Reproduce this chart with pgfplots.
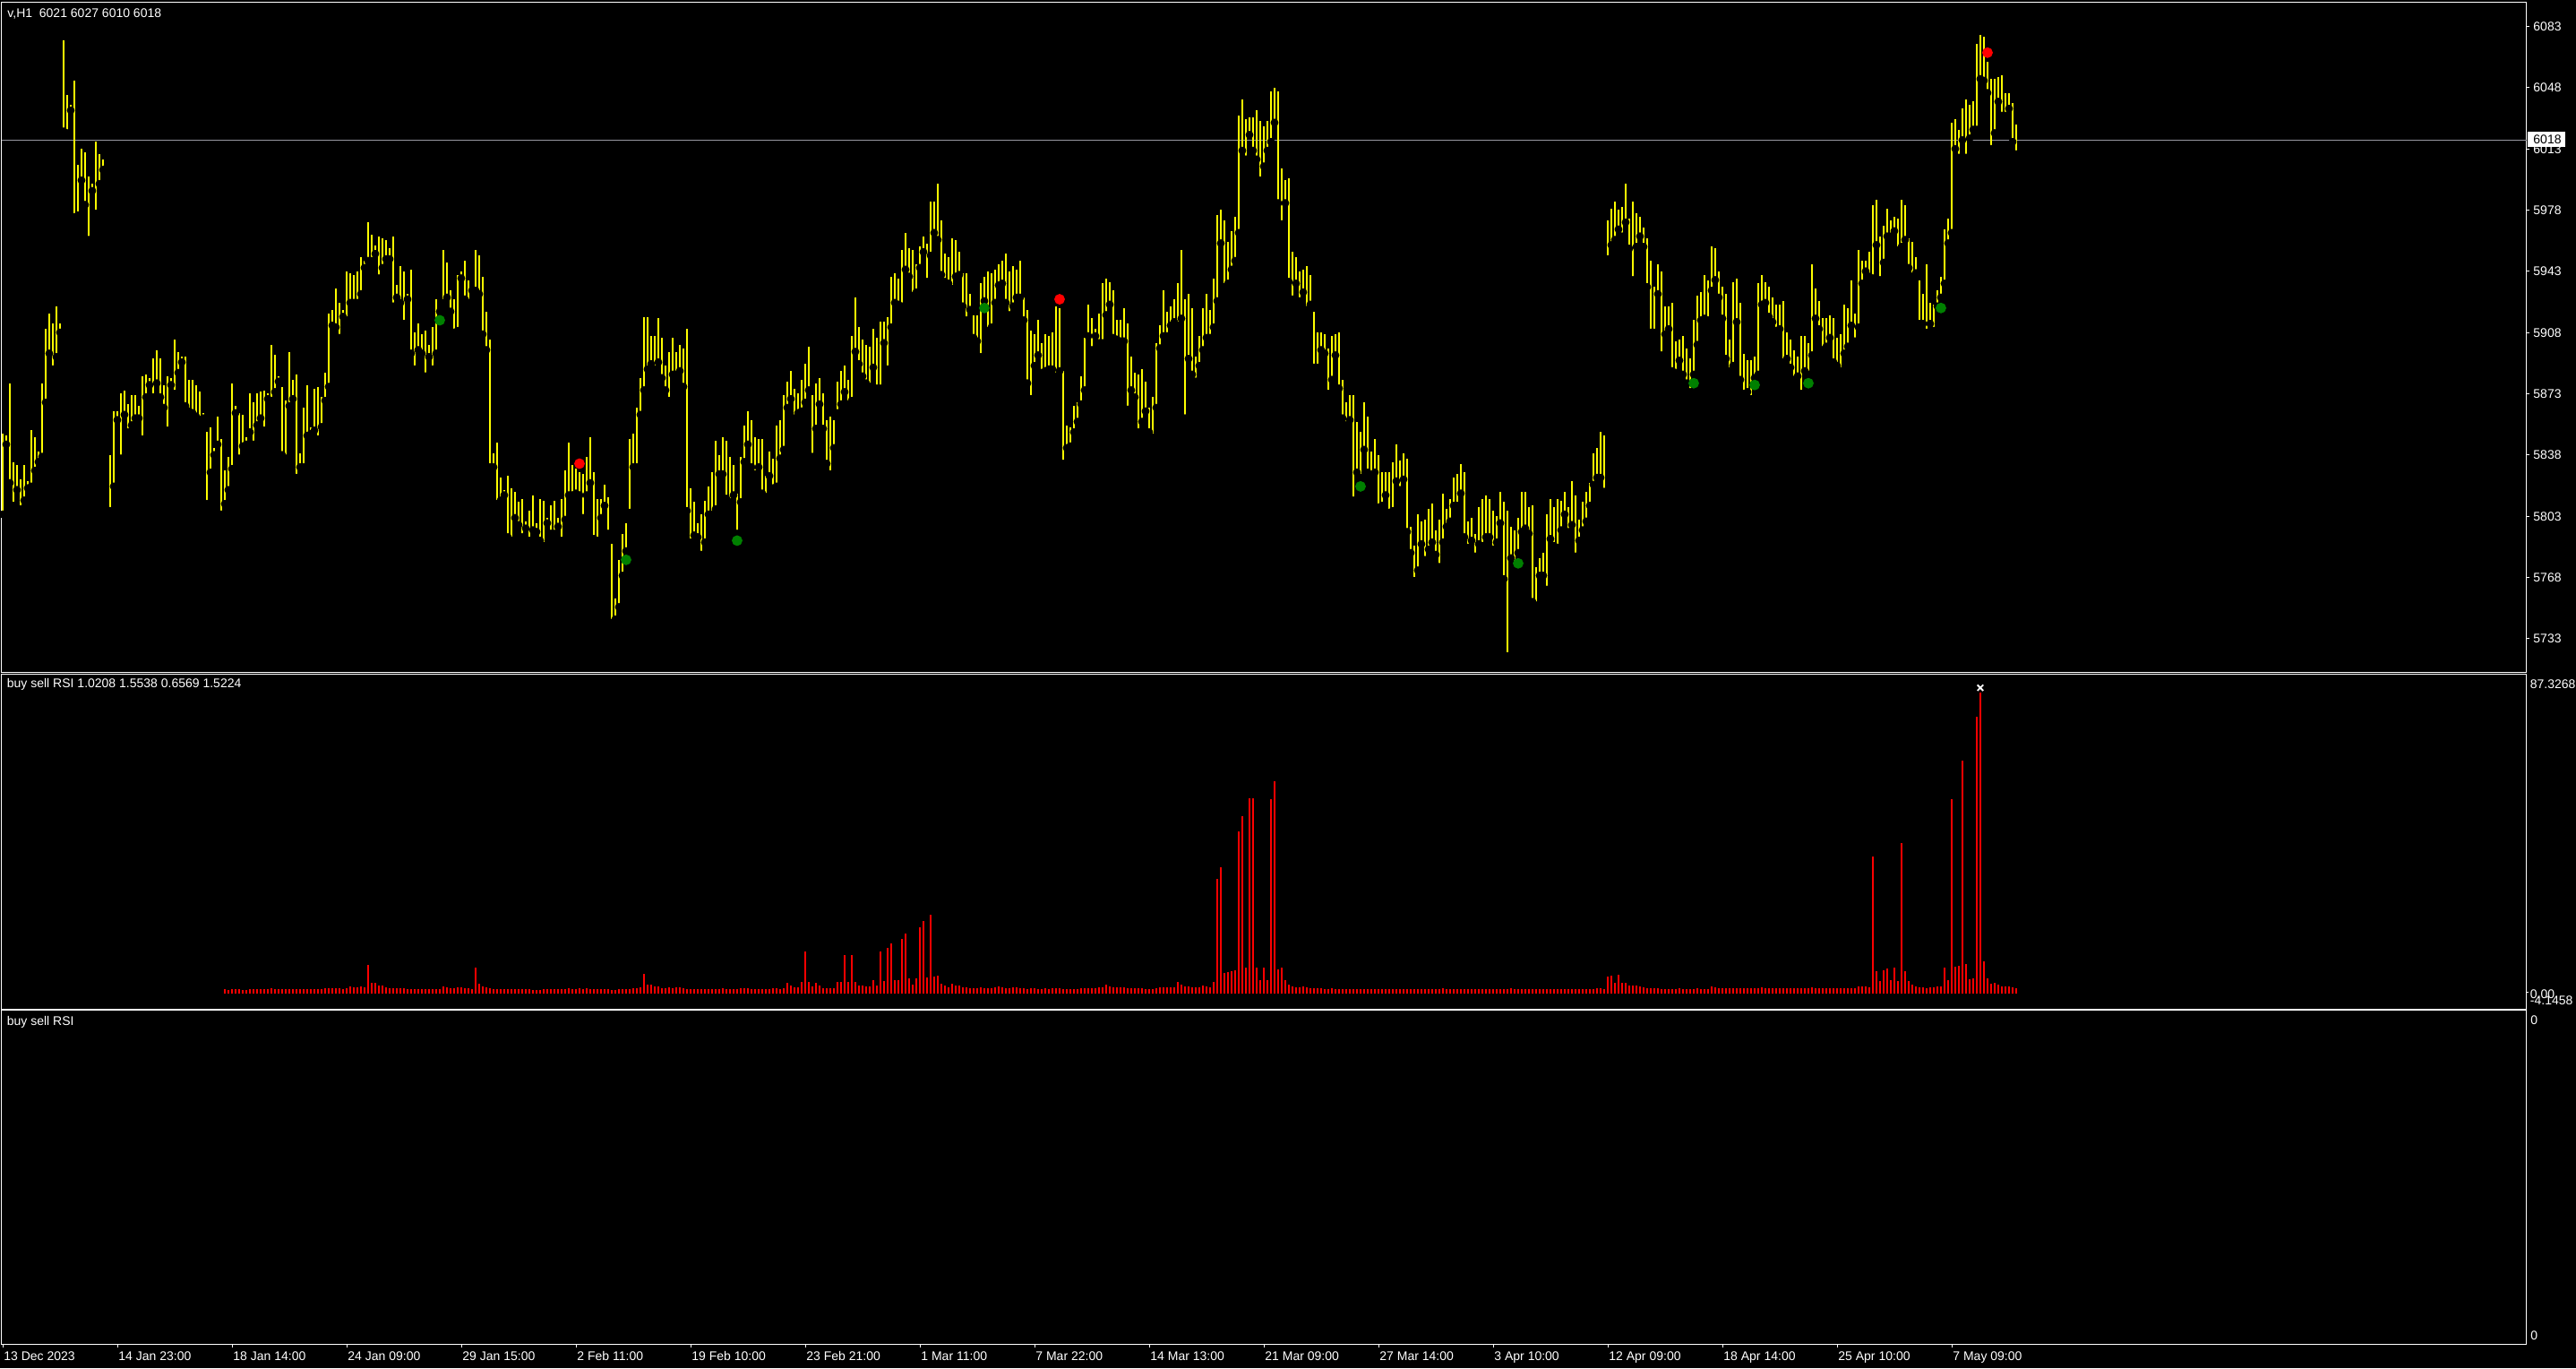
\documentclass[border=0pt]{standalone}
\usepackage{fontspec}
\setmainfont{Liberation Sans}
\usepackage{pgfplots}
\pgfplotsset{compat=1.18}
\usepackage{pgfplotstable}

\definecolor{mtyellow}{RGB}{255,255,0}
\definecolor{mtgreen}{RGB}{0,128,0}
\definecolor{mtred}{RGB}{255,0,0}
\definecolor{mtline}{RGB}{150,150,160}

% H1 bars: index, low, high
\pgfplotstableread[row sep=\\]{
i lo hi\\
0 5804 5850\\ 1 5844 5849\\ 2 5822 5879\\ 3 5809 5834\\ 4 5818 5832\\ 5 5807 5824\\ 6 5812 5832\\ 7 5819 5823\\
8 5820 5852\\ 9 5829 5848\\ 10 5834 5840\\ 11 5837 5879\\ 12 5868 5910\\ 13 5896 5919\\ 14 5887 5913\\ 15 5894 5923\\
16 5908 5913\\ 17 6023 6075\\ 18 6022 6044\\ 19 6035 6038\\ 20 5974 6052\\ 21 5975 6004\\ 22 5995 6013\\ 23 5981 6011\\
24 5961 5997\\ 25 5989 5993\\ 26 5976 6017\\ 27 5993 6010\\ 28 6001 6007\\ 29 6002 6004\\ 30 5806 5838\\ 31 5820 5863\\
32 5858 5863\\ 33 5836 5873\\ 34 5861 5875\\ 35 5851 5867\\ 36 5855 5872\\ 37 5859 5872\\ 38 5859 5866\\ 39 5847 5883\\
40 5871 5884\\ 41 5878 5882\\ 42 5871 5893\\ 43 5879 5898\\ 44 5871 5893\\ 45 5865 5878\\ 46 5852 5883\\ 47 5878 5882\\
48 5873 5904\\ 49 5885 5897\\ 50 5891 5894\\ 51 5866 5894\\ 52 5863 5881\\ 53 5862 5881\\ 54 5860 5878\\ 55 5858 5874\\
56 5859 5862\\ 57 5810 5851\\ 58 5828 5854\\ 59 5838 5842\\ 60 5844 5860\\ 61 5804 5847\\ 62 5810 5829\\ 63 5818 5837\\
64 5830 5879\\ 65 5862 5866\\ 66 5836 5862\\ 67 5843 5861\\ 68 5844 5848\\ 69 5851 5873\\ 70 5844 5868\\ 71 5855 5873\\
72 5859 5874\\ 73 5852 5875\\ 74 5870 5873\\ 75 5869 5901\\ 76 5874 5895\\ 77 5880 5883\\ 78 5838 5877\\ 79 5836 5869\\
80 5866 5897\\ 81 5870 5881\\ 82 5825 5884\\ 83 5831 5839\\ 84 5831 5865\\ 85 5849 5878\\ 86 5850 5854\\ 87 5852 5876\\
88 5847 5877\\ 89 5854 5871\\ 90 5869 5885\\ 91 5877 5919\\ 92 5912 5921\\ 93 5911 5933\\ 94 5905 5925\\ 95 5917 5921\\
96 5915 5943\\ 97 5925 5942\\ 98 5925 5941\\ 99 5925 5943\\ 100 5930 5951\\ 101 5945 5949\\ 102 5949 5971\\ 103 5949 5964\\
104 5953 5958\\ 105 5939 5963\\ 106 5945 5962\\ 107 5950 5961\\ 108 5950 5956\\ 109 5923 5963\\ 110 5928 5935\\ 111 5925 5946\\
112 5913 5943\\ 113 5927 5930\\ 114 5896 5944\\ 115 5887 5908\\ 116 5898 5913\\ 117 5896 5907\\ 118 5883 5909\\ 119 5894 5901\\
120 5887 5911\\ 121 5896 5927\\ 122 5920 5922\\ 123 5925 5955\\ 124 5928 5948\\ 125 5920 5932\\ 126 5908 5927\\ 127 5909 5941\\
128 5939 5943\\ 129 5927 5949\\ 130 5925 5938\\ 131 5932 5934\\ 132 5932 5955\\ 133 5930 5952\\ 134 5907 5940\\ 135 5898 5920\\
136 5831 5904\\ 137 5831 5839\\ 138 5810 5845\\ 139 5812 5825\\ 140 5815 5818\\ 141 5791 5826\\ 142 5789 5819\\ 143 5802 5817\\
144 5798 5811\\ 145 5791 5813\\ 146 5796 5800\\ 147 5789 5806\\ 148 5795 5815\\ 149 5794 5799\\ 150 5789 5813\\ 151 5786 5812\\
152 5799 5802\\ 153 5793 5809\\ 154 5793 5812\\ 155 5797 5802\\ 156 5789 5813\\ 157 5801 5829\\ 158 5815 5845\\ 159 5815 5832\\
160 5816 5830\\ 161 5815 5828\\ 162 5802 5827\\ 163 5815 5837\\ 164 5822 5848\\ 165 5790 5828\\ 166 5789 5813\\ 167 5802 5813\\
168 5809 5821\\ 169 5793 5814\\ 170 5742 5787\\ 171 5744 5756\\ 172 5751 5778\\ 173 5769 5793\\ 174 5783 5799\\ 175 5805 5847\\
176 5831 5850\\ 177 5831 5865\\ 178 5861 5882\\ 179 5875 5917\\ 180 5887 5917\\ 181 5890 5906\\ 182 5887 5906\\ 183 5891 5916\\
184 5882 5905\\ 185 5875 5889\\ 186 5869 5897\\ 187 5884 5905\\ 188 5884 5897\\ 189 5886 5901\\ 190 5877 5899\\ 191 5806 5910\\
192 5788 5819\\ 193 5792 5811\\ 194 5791 5799\\ 195 5781 5804\\ 196 5788 5812\\ 197 5804 5820\\ 198 5804 5828\\ 199 5807 5846\\
200 5827 5838\\ 201 5827 5848\\ 202 5813 5846\\ 203 5811 5837\\ 204 5815 5832\\ 205 5793 5816\\ 206 5811 5837\\ 207 5834 5855\\
208 5844 5863\\ 209 5831 5858\\ 210 5827 5848\\ 211 5831 5847\\ 212 5816 5847\\ 213 5814 5826\\ 214 5826 5840\\ 215 5819 5836\\
216 5820 5855\\ 217 5836 5858\\ 218 5841 5872\\ 219 5865 5880\\ 220 5870 5886\\ 221 5859 5876\\ 222 5862 5873\\ 223 5863 5881\\
224 5868 5890\\ 225 5875 5900\\ 226 5837 5872\\ 227 5853 5879\\ 228 5867 5882\\ 229 5853 5873\\ 230 5833 5858\\ 231 5827 5860\\
232 5842 5858\\ 233 5862 5880\\ 234 5867 5886\\ 235 5874 5889\\ 236 5867 5881\\ 237 5869 5906\\ 238 5897 5928\\ 239 5890 5911\\
240 5883 5904\\ 241 5879 5901\\ 242 5877 5900\\ 243 5888 5910\\ 244 5876 5905\\ 245 5876 5914\\ 246 5902 5914\\ 247 5887 5917\\
248 5911 5940\\ 249 5925 5942\\ 250 5924 5939\\ 251 5923 5955\\ 252 5944 5965\\ 253 5940 5956\\ 254 5929 5955\\ 255 5931 5947\\
256 5945 5957\\ 257 5954 5963\\ 258 5937 5959\\ 259 5952 5983\\ 260 5965 5983\\ 261 5961 5993\\ 262 5941 5972\\ 263 5937 5953\\
264 5936 5951\\ 265 5933 5962\\ 266 5940 5961\\ 267 5941 5954\\ 268 5923 5942\\ 269 5915 5942\\ 270 5921 5930\\ 271 5905 5918\\
272 5903 5918\\ 273 5894 5936\\ 274 5926 5940\\ 275 5909 5943\\ 276 5911 5942\\ 277 5925 5944\\ 278 5935 5947\\ 279 5936 5949\\
280 5925 5953\\ 281 5918 5943\\ 282 5923 5946\\ 283 5928 5944\\ 284 5928 5949\\ 285 5915 5928\\ 286 5879 5921\\ 287 5870 5909\\
288 5889 5907\\ 289 5895 5915\\ 290 5885 5902\\ 291 5886 5907\\ 292 5887 5906\\ 293 5887 5908\\ 294 5883 5923\\ 295 5886 5922\\
296 5833 5886\\ 297 5842 5855\\ 298 5843 5854\\ 299 5851 5866\\ 300 5857 5868\\ 301 5867 5883\\ 302 5875 5905\\ 303 5906 5924\\
304 5898 5916\\ 305 5906 5910\\ 306 5902 5919\\ 307 5902 5936\\ 308 5918 5939\\ 309 5924 5937\\ 310 5905 5932\\ 311 5904 5915\\
312 5903 5915\\ 313 5903 5922\\ 314 5864 5913\\ 315 5875 5894\\ 316 5871 5885\\ 317 5851 5884\\ 318 5857 5887\\ 319 5863 5880\\
320 5851 5865\\ 321 5848 5871\\ 322 5865 5902\\ 323 5899 5912\\ 324 5906 5932\\ 325 5906 5920\\ 326 5912 5923\\ 327 5914 5927\\
328 5912 5936\\ 329 5916 5955\\ 330 5859 5927\\ 331 5893 5930\\ 332 5884 5922\\ 333 5880 5894\\ 334 5889 5906\\ 335 5898 5922\\
336 5905 5930\\ 337 5905 5921\\ 338 5911 5939\\ 339 5926 5975\\ 340 5959 5978\\ 341 5934 5972\\ 342 5936 5960\\ 343 5944 5966\\
344 5949 5974\\ 345 5965 6032\\ 346 6012 6041\\ 347 6007 6030\\ 348 6021 6031\\ 349 6012 6031\\ 350 6007 6035\\ 351 5995 6029\\
352 6003 6026\\ 353 6012 6029\\ 354 6017 6046\\ 355 6028 6048\\ 356 5982 6046\\ 357 5970 6002\\ 358 5982 5995\\ 359 5937 5996\\
360 5927 5954\\ 361 5936 5951\\ 362 5926 5943\\ 363 5931 5944\\ 364 5921 5946\\ 365 5924 5941\\ 366 5888 5920\\ 367 5888 5908\\
368 5898 5908\\ 369 5896 5907\\ 370 5873 5899\\ 371 5881 5906\\ 372 5895 5907\\ 373 5876 5908\\ 374 5859 5881\\ 375 5855 5868\\
376 5858 5872\\ 377 5812 5872\\ 378 5828 5857\\ 379 5825 5851\\ 380 5841 5868\\ 381 5828 5860\\ 382 5826 5840\\ 383 5828 5847\\
384 5808 5838\\ 385 5809 5828\\ 386 5815 5828\\ 387 5805 5828\\ 388 5806 5834\\ 389 5823 5844\\ 390 5818 5835\\ 391 5824 5839\\
392 5794 5836\\ 393 5782 5797\\ 394 5766 5786\\ 395 5772 5804\\ 396 5787 5800\\ 397 5778 5801\\ 398 5784 5807\\ 399 5788 5810\\
400 5781 5795\\ 401 5774 5801\\ 402 5788 5816\\ 403 5797 5807\\ 404 5800 5813\\ 405 5809 5825\\ 406 5809 5827\\ 407 5816 5833\\
408 5791 5828\\ 409 5785 5800\\ 410 5789 5802\\ 411 5780 5793\\ 412 5787 5808\\ 413 5786 5813\\ 414 5791 5815\\ 415 5791 5813\\
416 5784 5806\\ 417 5788 5803\\ 418 5799 5817\\ 419 5767 5811\\ 420 5723 5806\\ 421 5779 5797\\ 422 5774 5795\\ 423 5782 5802\\
424 5794 5817\\ 425 5796 5817\\ 426 5793 5808\\ 427 5754 5809\\ 428 5752 5774\\ 429 5769 5779\\ 430 5769 5782\\ 431 5761 5804\\
432 5790 5813\\ 433 5786 5808\\ 434 5785 5813\\ 435 5795 5812\\ 436 5804 5817\\ 437 5794 5808\\ 438 5798 5823\\ 439 5780 5815\\
440 5789 5801\\ 441 5795 5811\\ 442 5800 5817\\ 443 5809 5822\\ 444 5821 5839\\ 445 5825 5842\\ 446 5825 5851\\ 447 5817 5849\\
448 5950 5972\\ 449 5958 5979\\ 450 5961 5983\\ 451 5967 5978\\ 452 5963 5980\\ 453 5971 5993\\ 454 5956 5973\\ 455 5938 5983\\
456 5957 5976\\ 457 5963 5974\\ 458 5957 5968\\ 459 5934 5962\\ 460 5908 5949\\ 461 5908 5934\\ 462 5930 5947\\ 463 5895 5943\\
464 5907 5923\\ 465 5910 5923\\ 466 5886 5925\\ 467 5885 5903\\ 468 5892 5904\\ 469 5884 5906\\ 470 5879 5899\\ 471 5874 5893\\
472 5884 5915\\ 473 5901 5929\\ 474 5915 5931\\ 475 5916 5941\\ 476 5915 5938\\ 477 5932 5957\\ 478 5938 5956\\ 479 5928 5943\\
480 5916 5934\\ 481 5893 5930\\ 482 5886 5904\\ 483 5889 5937\\ 484 5914 5939\\ 485 5881 5925\\ 486 5873 5896\\ 487 5874 5892\\
488 5870 5892\\ 489 5882 5894\\ 490 5884 5936\\ 491 5924 5941\\ 492 5925 5937\\ 493 5917 5934\\ 494 5914 5928\\ 495 5909 5924\\
496 5910 5924\\ 497 5891 5926\\ 498 5893 5908\\ 499 5888 5904\\ 500 5881 5898\\ 501 5883 5894\\ 502 5873 5906\\ 503 5886 5906\\
504 5884 5902\\ 505 5895 5947\\ 506 5916 5933\\ 507 5910 5926\\ 508 5898 5916\\ 509 5900 5916\\ 510 5905 5918\\ 511 5891 5916\\
512 5889 5905\\ 513 5886 5907\\ 514 5896 5924\\ 515 5900 5922\\ 516 5912 5938\\ 517 5903 5919\\ 518 5911 5955\\ 519 5936 5949\\
520 5943 5949\\ 521 5940 5954\\ 522 5939 5981\\ 523 5958 5984\\ 524 5938 5963\\ 525 5948 5969\\ 526 5963 5979\\ 527 5963 5972\\
528 5966 5974\\ 529 5955 5973\\ 530 5957 5984\\ 531 5961 5981\\ 532 5945 5962\\ 533 5940 5960\\ 534 5942 5951\\ 535 5913 5938\\
536 5913 5930\\ 537 5908 5947\\ 538 5913 5925\\ 539 5909 5924\\ 540 5923 5932\\ 541 5928 5940\\ 542 5936 5967\\ 543 5959 5973\\
544 5965 6028\\ 545 6013 6030\\ 546 6008 6024\\ 547 6018 6036\\ 548 6008 6041\\ 549 6019 6038\\ 550 6024 6040\\ 551 6024 6073\\
552 6053 6078\\ 553 6052 6077\\ 554 6045 6063\\ 555 6013 6053\\ 556 6022 6053\\ 557 6040 6054\\ 558 6032 6055\\ 559 6032 6045\\
560 6036 6045\\ 561 6017 6039\\ 562 6010 6027\\
}\pricebars

\pgfplotsset{
  mtpane/.style={
    scale only axis, width=1409.5pt, anchor=north west,
    xmin=-0.25, xmax=704.5,
    xtick=\empty, ytick=\empty,
    axis line style={white, line width=0.5pt},
  },
}

\begin{document}
\begin{tikzpicture}
\fill[black] (0,0) rectangle (1438pt,-763.5pt);
\useasboundingbox (0,0) rectangle (1438pt,-763.5pt);

% price pane
\begin{axis}[mtpane, at={(1pt,-1pt)}, height=374pt, ymin=5713.89, ymax=6097.09]
  \addplot[mtline, line width=0.5pt] coordinates {(-0.25,6018) (704.5,6018)};
  \addplot[only marks, mark=none, error bars/.cd, y dir=plus, y explicit, error mark=none,
    error bar style={draw=mtyellow, solid, line width=0.55pt}]
    table[x=i, y=lo, y error plus expr=\thisrow{hi}-\thisrow{lo}] {\pricebars};
  \addplot[only marks, mark=*, mark size=2.75pt, color=mtgreen] coordinates {
    (122,5915) (174,5778) (205,5789) (274,5922) (379,5820) (423,5776)
    (472,5879) (489,5878) (504,5879) (541,5922)};
  \addplot[only marks, mark=*, mark size=2.75pt, color=mtred] coordinates {
    (161,5833) (295,5927) (554,6068)};
\end{axis}

% buy sell RSI histogram
\begin{axis}[mtpane, at={(1pt,-376.25pt)}, height=186.75pt, ymin=-4.1458, ymax=87.3268]
  \addplot[ycomb, mtred, line width=0.55pt, mark=none] coordinates {
(62,1.15)(63,0.9)(64,1.2)(65,1.2)(66,1.2)(67,0.9)(68,0.9)(69,1.2)(70,1.2)(71,1.2)
(72,1.2)(73,1.2)(74,1.2)(75,1.5)(76,1.2)(77,1.2)(78,1.2)(79,1.2)(80,1.2)(81,1.2)
(82,1.2)(83,1.2)(84,1.2)(85,1.2)(86,1.2)(87,1.2)(88,1.2)(89,1.2)(90,1.5)(91,1.5)
(92,1.5)(93,1.5)(94,1.5)(95,1.2)(96,1.5)(97,2.0)(98,1.7)(99,1.7)(100,2.0)(101,1.7)
(102,7.85)(103,2.9)(104,2.9)(105,2.2)(106,2.2)(107,1.7)(108,1.5)(109,1.5)(110,1.5)(111,1.5)
(112,1.5)(113,1.2)(114,1.2)(115,1.2)(116,1.2)(117,1.2)(118,1.2)(119,1.2)(120,1.2)(121,1.2)
(122,1.2)(123,2.0)(124,1.7)(125,1.5)(126,1.5)(127,1.7)(128,1.7)(129,1.5)(130,1.5)(131,1.2)
(132,7.1)(133,2.7)(134,2.0)(135,1.7)(136,1.5)(137,1.2)(138,1.2)(139,1.2)(140,1.2)(141,1.2)
(142,1.2)(143,1.2)(144,1.2)(145,1.2)(146,1.2)(147,1.2)(148,0.9)(149,0.9)(150,0.9)(151,1.2)
(152,1.2)(153,1.2)(154,1.2)(155,1.2)(156,1.2)(157,1.2)(158,1.5)(159,1.2)(160,1.2)(161,1.5)
(162,1.2)(163,1.5)(164,1.2)(165,1.2)(166,1.2)(167,1.2)(168,1.2)(169,1.2)(170,0.9)(171,0.9)
(172,1.2)(173,1.2)(174,1.2)(175,1.2)(176,1.5)(177,1.5)(178,1.7)(179,5.4)(180,2.45)(181,2.45)
(182,2.0)(183,2.0)(184,1.5)(185,1.5)(186,1.7)(187,1.5)(188,1.7)(189,1.7)(190,1.5)(191,1.2)
(192,1.2)(193,1.2)(194,1.2)(195,1.2)(196,1.2)(197,1.2)(198,1.2)(199,1.2)(200,1.2)(201,1.5)
(202,1.2)(203,1.2)(204,1.2)(205,1.2)(206,1.5)(207,1.5)(208,1.5)(209,1.2)(210,1.2)(211,1.2)
(212,1.2)(213,1.2)(214,1.2)(215,1.5)(216,1.5)(217,1.2)(218,1.5)(219,2.9)(220,2.2)(221,1.7)
(222,1.7)(223,3.2)(224,11.6)(225,3.2)(226,2.0)(227,2.9)(228,2.2)(229,1.6)(230,1.4)(231,1.6)
(232,1.4)(233,3.2)(234,3.2)(235,10.5)(236,3.2)(237,10.5)(238,3.2)(239,2.2)(240,2.2)(241,2.0)
(242,2.0)(243,3.7)(244,2.2)(245,11.5)(246,3.4)(247,12.5)(248,13.7)(249,3.7)(250,3.7)(251,15.0)
(252,16.4)(253,4.2)(254,2.5)(255,4.2)(256,18.2)(257,19.9)(258,4.4)(259,21.6)(260,4.7)(261,4.9)
(262,2.7)(263,2.2)(264,1.7)(265,2.7)(266,2.2)(267,2.2)(268,1.7)(269,1.7)(270,1.5)(271,1.5)
(272,1.5)(273,1.7)(274,1.5)(275,1.5)(276,1.5)(277,1.7)(278,2.0)(279,1.7)(280,1.5)(281,1.5)
(282,1.7)(283,1.7)(284,1.5)(285,1.5)(286,1.2)(287,1.5)(288,1.5)(289,1.2)(290,1.2)(291,1.5)
(292,1.2)(293,1.5)(294,1.5)(295,1.5)(296,1.2)(297,1.2)(298,1.2)(299,1.2)(300,1.2)(301,1.5)
(302,1.5)(303,1.5)(304,1.5)(305,1.5)(306,1.7)(307,1.7)(308,2.5)(309,2.0)(310,1.7)(311,1.7)
(312,1.7)(313,1.7)(314,1.5)(315,1.5)(316,1.5)(317,1.5)(318,1.5)(319,1.2)(320,1.2)(321,1.2)
(322,1.5)(323,1.7)(324,1.7)(325,1.7)(326,1.7)(327,1.7)(328,3.2)(329,2.5)(330,2.0)(331,2.0)
(332,1.7)(333,1.7)(334,1.7)(335,2.2)(336,2.0)(337,1.7)(338,3.2)(339,31.4)(340,34.6)(341,5.6)
(342,5.9)(343,6.1)(344,6.4)(345,44.4)(346,48.6)(347,7.1)(348,53.5)(349,53.5)(350,7.1)(351,3.7)
(352,7.1)(353,3.7)(354,53.2)(355,58.1)(356,6.6)(357,7.1)(358,3.7)(359,2.5)(360,2.0)(361,1.7)
(362,1.7)(363,2.0)(364,1.7)(365,1.5)(366,1.5)(367,1.5)(368,1.5)(369,1.2)(370,1.2)(371,1.5)
(372,1.2)(373,1.2)(374,1.2)(375,1.2)(376,1.2)(377,1.2)(378,1.2)(379,1.2)(380,1.2)(381,1.2)
(382,1.2)(383,1.2)(384,1.2)(385,1.2)(386,1.2)(387,1.2)(388,1.2)(389,1.2)(390,1.2)(391,1.2)
(392,1.2)(393,1.2)(394,1.2)(395,1.2)(396,1.2)(397,1.2)(398,1.2)(399,1.2)(400,1.2)(401,1.2)
(402,1.5)(403,1.2)(404,1.2)(405,1.2)(406,1.2)(407,1.2)(408,1.2)(409,1.2)(410,1.2)(411,1.2)
(412,1.2)(413,1.2)(414,1.2)(415,1.2)(416,1.2)(417,1.2)(418,1.2)(419,1.2)(420,1.2)(421,1.5)
(422,1.2)(423,1.2)(424,1.2)(425,1.2)(426,1.2)(427,1.2)(428,1.2)(429,1.2)(430,1.2)(431,1.2)
(432,1.2)(433,1.2)(434,1.2)(435,1.2)(436,1.2)(437,1.2)(438,1.2)(439,1.2)(440,1.2)(441,1.2)
(442,1.2)(443,1.2)(444,1.2)(445,1.5)(446,1.5)(447,1.2)(448,4.7)(449,4.9)(450,2.9)(451,5.2)
(452,2.9)(453,2.9)(454,2.2)(455,2.2)(456,2.2)(457,2.0)(458,1.7)(459,1.5)(460,1.5)(461,1.5)
(462,1.5)(463,1.2)(464,1.2)(465,1.2)(466,1.2)(467,1.2)(468,1.5)(469,1.2)(470,1.2)(471,1.2)
(472,1.2)(473,1.5)(474,1.2)(475,1.2)(476,1.2)(477,2.0)(478,1.7)(479,1.5)(480,1.5)(481,1.5)
(482,1.5)(483,1.5)(484,1.5)(485,1.5)(486,1.5)(487,1.5)(488,1.5)(489,1.5)(490,1.5)(491,1.7)
(492,1.5)(493,1.5)(494,1.5)(495,1.5)(496,1.5)(497,1.5)(498,1.5)(499,1.5)(500,1.5)(501,1.5)
(502,1.5)(503,1.5)(504,1.5)(505,1.7)(506,1.5)(507,1.5)(508,1.5)(509,1.5)(510,1.5)(511,1.5)
(512,1.5)(513,1.5)(514,1.5)(515,1.5)(516,1.5)(517,1.5)(518,2.0)(519,2.0)(520,2.0)(521,1.7)
(522,37.5)(523,6.1)(524,3.4)(525,6.4)(526,6.9)(527,3.7)(528,7.1)(529,3.4)(530,41.2)(531,6.1)
(532,3.4)(533,2.5)(534,2.0)(535,1.7)(536,1.7)(537,1.5)(538,1.7)(539,1.7)(540,2.0)(541,2.0)
(542,7.1)(543,3.7)(544,53.2)(545,7.4)(546,7.6)(547,63.8)(548,8.1)(549,3.9)(550,4.2)(551,75.8)
(552,82.3)(553,8.8)(554,4.2)(555,2.7)(556,2.9)(557,2.5)(558,2.0)(559,2.0)(560,2.0)(561,1.7)
(562,1.5)};
  \addplot[only marks, mark=x, mark size=2.3pt, white, line width=0.9pt] coordinates {(552,83.6)};
\end{axis}

% empty buy sell RSI pane
\begin{axis}[mtpane, at={(1pt,-563.75pt)}, height=186.25pt, ymin=0, ymax=1]
\end{axis}

% texts and scale marks, in pixels of the reference
\begin{scope}[x=0.5pt, y=-0.5pt, every node/.append style={font=\fontsize{7pt}{8pt}\selectfont, inner sep=0pt, text=white}]
  \node[anchor=base west] at (8,19.3) {v,H1~~6021 6027 6010 6018};
  \node[anchor=base west] at (7.5,767) {buy sell RSI 1.0208 1.5538 0.6569 1.5224};
  \node[anchor=base west] at (7.5,1144.3) {buy sell RSI};

  \foreach \k/\v in {0/6083,1/6048,2/6013,3/5978,4/5943,5/5908,6/5873,7/5838,8/5803,9/5768,10/5733} {
    \draw[white, line width=0.5pt] (2821,{29.5+68.32*\k}) -- (2824,{29.5+68.32*\k});
    \node[anchor=base west] at (2828,{34.5+68.32*\k}) {\v};
  }
  \fill[white] (2822,147) rectangle (2864,163.5);
  \node[anchor=base west, text=black] at (2828,160.5) {6018};

  \node[anchor=base west] at (2824.5,768.3) {87.3268};
  \node[anchor=base west] at (2824.5,1114) {0.00};
  \node[anchor=base west] at (2824.5,1121) {-4.1458};
  \draw[white, line width=0.5pt] (2821,1107) -- (2823,1107);
  \node[anchor=base west] at (2825,1143) {0};
  \node[anchor=base west] at (2825,1495) {0};

  \foreach \k/\t in {0/13 Dec 2023,1/14 Jan 23:00,2/18 Jan 14:00,3/24 Jan 09:00,4/29 Jan 15:00,
      5/2 Feb 11:00,6/19 Feb 10:00,7/23 Feb 21:00,8/1 Mar 11:00,9/7 Mar 22:00,10/14 Mar 13:00,
      11/21 Mar 09:00,12/27 Mar 14:00,13/3 Apr 10:00,14/12 Apr 09:00,15/18 Apr 14:00,
      16/25 Apr 10:00,17/7 May 09:00} {
    \draw[white, line width=0.5pt] ({3+128*\k},1500) -- ({3+128*\k},1504);
    \node[anchor=base west] at ({4+128*\k},1518) {\t};
  }
\end{scope}
\end{tikzpicture}
\end{document}
